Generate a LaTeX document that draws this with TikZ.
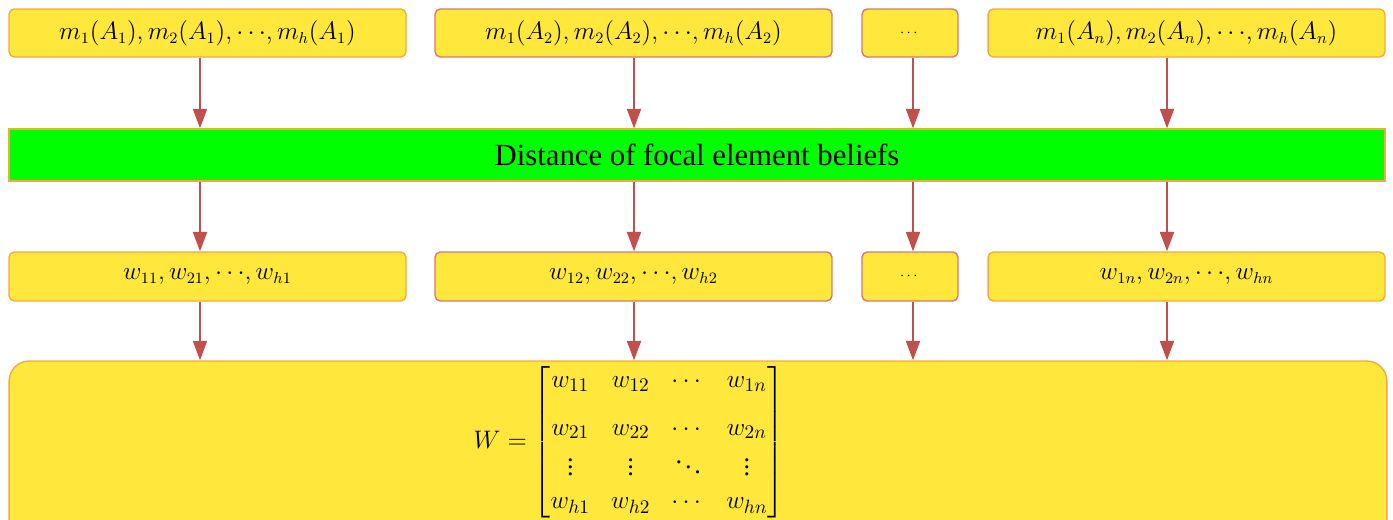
\documentclass[tikz,border=0pt]{standalone}
\usepackage{amsmath}
\usepackage{fontspec}
\setmainfont{Liberation Serif}
\usetikzlibrary{arrows.meta}
\definecolor{cyellow}{HTML}{FFE83B}
\definecolor{cgreen}{HTML}{00FF00}
\definecolor{corange}{HTML}{F5A83C}
\definecolor{crose}{HTML}{D07A72}
\definecolor{cred}{HTML}{C0504D}
\tikzset{
  every picture/.style={x=0.02cm, y=-0.02cm},
  box/.style={draw=#1, fill=cyellow, rounded corners=3pt, line width=0.8pt, inner sep=0pt, minimum width=7.94cm, minimum height=0.96cm},
  box/.default=corange,
  dotbox/.style={box=crose, minimum width=1.92cm},
  bar/.style={draw=corange, fill=cgreen, line width=0.8pt, minimum width=27.52cm, minimum height=1.04cm, font=\fontsize{17.5}{20}\selectfont},
  arrow/.style={-{Triangle[length=11pt, width=8pt]}, draw=cred, fill=cred, line width=0.9pt},
  mtext/.style={font=\fontsize{13.5}{16}\selectfont},
  wtext/.style={font=\fontsize{13.5}{16}\selectfont},
}

\begin{document}
\begin{tikzpicture}
  \useasboundingbox (0,0) rectangle (1393,520);
  % belief assignments of each focal element
  \node[box, mtext] (m1) at (207.5,33) {$m_1(A_1),m_2(A_1),{\cdots},m_h(A_1)$};
  \node[box=crose, mtext] (m2) at (633.5,33) {$m_1(A_2),m_2(A_2),{\cdots},m_h(A_2)$};
  \node[dotbox, font=\fontsize{8}{10}\selectfont] (md) at (910,33) {$\cdots$};
  \node[box, mtext] (mn) at (1186.5,33) {$m_1(A_n),m_2(A_n),{\cdots},m_h(A_n)$};
  \node[bar] (dist) at (697,155) {Distance of focal element beliefs};
  % weights
  \node[box, wtext, minimum height=0.98cm] (w1) at (207.5,276.5) {$w_{11},w_{21},{\cdots},w_{h1}$};
  \node[box=crose, wtext, minimum height=0.98cm] (w2) at (633.5,276.5) {$w_{12},w_{22},{\cdots},w_{h2}$};
  \node[dotbox, minimum height=0.98cm, font=\fontsize{8}{10}\selectfont] (wd) at (910,276.5) {$\cdots$};
  \node[box, wtext, minimum height=0.98cm] (wn) at (1186.5,276.5) {$w_{1n},w_{2n},{\cdots},w_{hn}$};
  % weight matrix
  \node[box, rounded corners=0.4cm, minimum width=27.56cm, minimum height=3.6cm] (wall) at (698,451) {};
  \node[font=\fontsize{15}{18}\selectfont] (wmat) at (629,442) {\setlength\arraycolsep{6pt}$W=\begin{bmatrix}
      w_{11} & w_{12} & \cdots & w_{1n}\\[9pt]
      w_{21} & w_{22} & \cdots & w_{2n}\\[2pt]
      \vdots & \vdots & \ddots & \vdots\\[1pt]
      w_{h1} & w_{h2} & \cdots & w_{hn}
    \end{bmatrix}$};
  \foreach \x/\up/\lo in {200/m1/w1, 634/m2/w2, 913/md/wd, 1167/mn/wn}{
    \coordinate (c) at (\x,0);
    \draw[arrow] (\up.south -| c) -- (dist.north -| c);
    \draw[arrow] (dist.south -| c) -- (\lo.north -| c);
    \draw[arrow] (\lo.south -| c) -- (wall.north -| c);
  }
\end{tikzpicture}
\end{document}
